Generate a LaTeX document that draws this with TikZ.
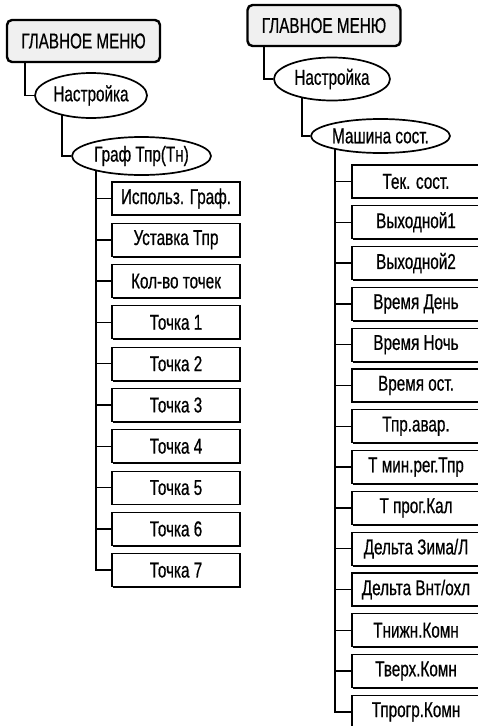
\documentclass[tikz,border=0pt]{standalone}
\usepackage{fontspec}
\setmainfont{Liberation Sans}[FakeStretch=0.71,FakeBold=0.6]
\usetikzlibrary{shapes.geometric,shadows,backgrounds}

\tikzset{
  menubox/.style={draw,line width=2.4pt,rounded corners=5pt,fill=gray!12,
    minimum width=153pt,minimum height=42pt,inner sep=0pt},
  itembox/.style={draw,line width=1.1pt,fill=white,minimum width=128pt,
    minimum height=33pt,inner sep=0pt,
    drop shadow={shadow xshift=1.3pt,shadow yshift=-1.3pt,opacity=1,fill=black}},
  subnode/.style={draw,ellipse,line width=1.7pt,fill=white,inner sep=0pt},
  branch/.style={line width=1.5pt}
}

\begin{document}
\begin{tikzpicture}[x=1pt,y=-1pt,font=\fontsize{21.5}{24}\selectfont]
\useasboundingbox (0,0) rectangle (477,726);

% Left tree
\node[menubox] (menuL) at (83.5,41) {ГЛАВНОЕ МЕНЮ};
\node[subnode,minimum width=112pt,minimum height=45pt] (setL) at (91,95.5) {Настройка};
\node[subnode,minimum width=139pt,minimum height=38pt] (grafL) at (141.5,156) {Граф Тпр(Тн)};
\foreach \t [count=\i from 0] in {Использ. Граф.,Уставка Тпр,Кол-во точек,
    Точка 1,Точка 2,Точка 3,Точка 4,Точка 5,Точка 6,Точка 7}
  \node[itembox] (itemL\i) at (176,{198.5+41.3*\i}) {\t};

% Right tree
\node[menubox,minimum height=41pt] (menuR) at (324,25.5) {ГЛАВНОЕ МЕНЮ};
\node[subnode,minimum width=116pt,minimum height=43pt] (setR) at (332,79) {Настройка};
\node[subnode,minimum width=139pt,minimum height=34pt] (machR) at (380.5,136) {Машина сост.};
\foreach \t [count=\i from 0] in {Тек. сост.,Выходной1,Выходной2,Время День,
    Время Ночь,Время ост.,Тпр.авар.,Т мин.рег.Тпр,Т прог.Кал,Дельта Зима/Л,
    Дельта Внт/охл,Тнижн.Комн,Тверх.Комн,Тпрогр.Комн}
  \node[itembox] (itemR\i) at (416,{181.5+40.8*\i}) {\t};

% Connect the levels
\begin{scope}[on background layer]
\draw[branch] ([xshift=19pt]menuL.south west) |- (setL.west);
\draw[branch] ([xshift=-29pt]setL.center) |- (grafL.west);
\coordinate (trunkL) at ([xshift=-45.5pt]grafL.center);
\draw[branch] (trunkL) |- (itemL9.west);
\foreach \i in {0,...,8}
  \draw[branch] (trunkL |- itemL\i.west) -- (itemL\i.west);

\draw[branch] ([xshift=17.5pt]menuR.south west) |- (setR.west);
\draw[branch] ([xshift=-30pt]setR.center) |- (machR.west);
\coordinate (trunkR) at ([xshift=-45.5pt]machR.center);
\draw[branch] (trunkR) |- (itemR13.west);
\foreach \i in {0,...,12}
  \draw[branch] (trunkR |- itemR\i.west) -- (itemR\i.west);
\end{scope}
\end{tikzpicture}
\end{document}
